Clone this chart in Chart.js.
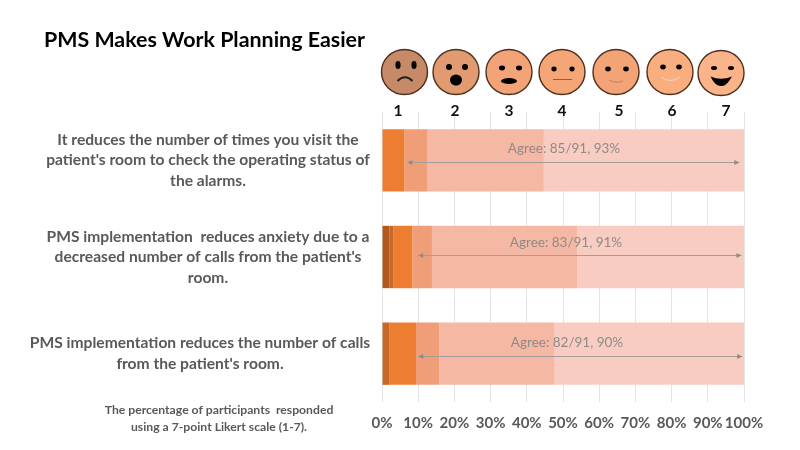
<!DOCTYPE html>
<html>
<head>
<meta charset="utf-8">
<title>PMS Makes Work Planning Easier</title>
<script src="https://cdn.jsdelivr.net/npm/chart.js@4"></script>
<style>
  html, body { margin: 0; padding: 0; background: #fff; }
  #wrap { position: relative; width: 800px; height: 450px; }
</style>
</head>
<body>
<div id="wrap"><canvas id="chart" width="800" height="450"></canvas></div>
<script>
// Likert responses per statement, percent of participants
const statements = [
  ["It reduces the number of times you visit the", "patient's room to check the operating status of", "the alarms."],
  ["PMS implementation  reduces anxiety due to a", "decreased number of calls from the patient's", "room."],
  ["PMS implementation reduces the number of calls", "from the patient's room."]
];
const score1 = [0, 2.0, 0];
const score2 = [0, 1.2, 2.1];
const score3 = [6.2, 5.2, 7.3];
const score4 = [6.4, 5.4, 6.4];
const score5 = [32.1, 40.2, 31.9];
const score6to7 = [55.3, 46.0, 52.3];

const agreeLabels = ["Agree: 85/91, 93%", "Agree: 83/91, 91%", "Agree: 82/91, 90%"];
const agreeFrom = [7, 10, 10];
const agreeTo = [98.7, 99.3, 99.5];

const scaleLabels = ["1", "2", "3", "4", "5", "6", "7"];
const footnote = ["The percentage of participants  responded", "using a 7-point Likert scale (1-7)."];

const FONT = 'Lato, "Open Sans", sans-serif';
const labelCenters = [208, 208, 200];
const scaleLabelX = [398, 455, 509, 562, 619, 672, 726];
const agreeTextX = [564, 566, 567];
const agreeTextY = [149, 243, 343];
const arrowY = [162, 255, 356];

const faces = [
  { x: 404.5, y: 72, fill: '#c68a68', mouth: 'frown', eyes: [398, 414, 65, 2.6, 4] },
  { x: 456, y: 72, fill: '#e29a70', mouth: 'open', eyes: [449, 465, 67, 3, 3] },
  { x: 509, y: 72, fill: '#f2a377', mouth: 'oval', eyes: [502, 519, 68, 3, 2.4] },
  { x: 562, y: 72, fill: '#f4a676', mouth: 'flat', eyes: [554, 572, 69, 2.6, 2.4] },
  { x: 616, y: 72, fill: '#f2a477', mouth: 'slight', eyes: [608, 626, 69, 2.8, 2.4] },
  { x: 670, y: 72, fill: '#f9ae80', mouth: 'pale', eyes: [663, 679, 67, 2.8, 2.4] },
  { x: 721, y: 73, fill: '#fbb38a', mouth: 'grin', eyes: [714, 731, 68, 3, 2] }
];

function drawFace(ctx, f){
  ctx.beginPath();
  ctx.ellipse(f.x, f.y, 23, 22.5, 0, 0, Math.PI * 2);
  ctx.fillStyle = f.fill;
  ctx.fill();
  ctx.lineWidth = 1.4;
  ctx.strokeStyle = '#4d2f1c';
  ctx.stroke();

  ctx.fillStyle = '#000';
  const [ex1, ex2, ey, rx, ry] = f.eyes;
  [ex1, ex2].forEach(ex => {
    ctx.beginPath();
    ctx.ellipse(ex, ey, rx, ry, 0, 0, Math.PI * 2);
    ctx.fill();
  });

  ctx.beginPath();
  if (f.mouth === 'frown'){
    ctx.moveTo(f.x - 7, f.y + 9);
    ctx.quadraticCurveTo(f.x + 0.5, f.y + 1.5, f.x + 8, f.y + 9);
    ctx.lineWidth = 2;
    ctx.strokeStyle = '#222';
    ctx.stroke();
  } else if (f.mouth === 'open'){
    ctx.ellipse(f.x, f.y + 8, 6, 5.5, 0, 0, Math.PI * 2);
    ctx.fill();
  } else if (f.mouth === 'oval'){
    ctx.ellipse(f.x, f.y + 9, 8, 3, 0, 0, Math.PI * 2);
    ctx.fill();
  } else if (f.mouth === 'flat'){
    ctx.moveTo(f.x - 9, f.y + 7.5);
    ctx.lineTo(f.x + 10, f.y + 7.5);
    ctx.lineWidth = 0.8;
    ctx.strokeStyle = '#7a4a30';
    ctx.stroke();
  } else if (f.mouth === 'slight'){
    ctx.moveTo(f.x - 7, f.y + 8);
    ctx.quadraticCurveTo(f.x, f.y + 12, f.x + 7, f.y + 9);
    ctx.lineWidth = 0.9;
    ctx.strokeStyle = '#c47c5c';
    ctx.stroke();
  } else if (f.mouth === 'pale'){
    ctx.moveTo(f.x - 9, f.y + 5);
    ctx.quadraticCurveTo(f.x, f.y + 12, f.x + 10, f.y + 5);
    ctx.lineWidth = 1;
    ctx.strokeStyle = '#f4d3be';
    ctx.stroke();
  } else if (f.mouth === 'grin'){
    ctx.moveTo(f.x - 10.5, f.y + 3.5);
    ctx.quadraticCurveTo(f.x, f.y + 8, f.x + 11, f.y + 3.5);
    ctx.quadraticCurveTo(f.x + 5, f.y + 14, f.x, f.y + 13);
    ctx.quadraticCurveTo(f.x - 6, f.y + 13, f.x - 10.5, f.y + 3.5);
    ctx.fill();
  }
}

function drawArrow(ctx, x1, x2, y){
  ctx.strokeStyle = '#a39c98';
  ctx.lineWidth = 1;
  ctx.beginPath();
  ctx.moveTo(x1, y + 0.5);
  ctx.lineTo(x2, y + 0.5);
  ctx.stroke();
  ctx.fillStyle = '#8f8a87';
  [[x1, 1], [x2, -1]].forEach(([x, dir]) => {
    ctx.beginPath();
    ctx.moveTo(x, y + 0.5);
    ctx.lineTo(x + dir * 5, y - 2);
    ctx.lineTo(x + dir * 5, y + 3);
    ctx.closePath();
    ctx.fill();
  });
}

// Everything around the bars: title, faces, statement text, agree spans
const decorations = {
  id: 'decorations',
  afterDatasetsDraw(chart){
    const ctx = chart.ctx;
    const xs = chart.scales.x;
    const ys = chart.scales.y;
    ctx.save();
    ctx.textBaseline = 'middle';

    ctx.textAlign = 'left';
    ctx.fillStyle = '#000';
    ctx.font = 'bold 21.4px ' + FONT;
    ctx.fillText('PMS Makes Work Planning Easier', 44, 40);

    faces.forEach(f => drawFace(ctx, f));

    ctx.textAlign = 'center';
    ctx.fillStyle = '#111';
    ctx.font = 'bold 15.5px ' + FONT;
    scaleLabels.forEach((s, i) => ctx.fillText(s, scaleLabelX[i], 111));

    statements.forEach((lines, i) => {
      const cy = ys.getPixelForValue(i);
      ctx.fillStyle = '#595959';
      ctx.font = 'bold 15.6px ' + FONT;
      lines.forEach((line, j) => {
        ctx.fillText(line, labelCenters[i], cy + (j - (lines.length - 1) / 2) * 20.5);
      });

      drawArrow(ctx, xs.getPixelForValue(agreeFrom[i]), xs.getPixelForValue(agreeTo[i]), arrowY[i]);
      ctx.fillStyle = '#8f8a87';
      ctx.font = '13.5px ' + FONT;
      ctx.fillText(agreeLabels[i], agreeTextX[i], agreeTextY[i]);
    });

    ctx.fillStyle = '#595959';
    ctx.font = 'bold 12.2px ' + FONT;
    footnote.forEach((line, j) => ctx.fillText(line, 219, 410 + j * 17));
    ctx.restore();
  }
};

const series = [
  { label: '1', data: score1, backgroundColor: '#b3591f' },
  { label: '2', data: score2, backgroundColor: '#c5682a' },
  { label: '3', data: score3, backgroundColor: '#ed7d31' },
  { label: '4', data: score4, backgroundColor: '#f09e78' },
  { label: '5', data: score5, backgroundColor: '#f4b8a4' },
  { label: '6-7', data: score6to7, backgroundColor: '#f8ccc0' }
];

new Chart(document.getElementById('chart').getContext('2d'), {
  type: 'bar',
  data: {
    labels: statements,
    datasets: series.map(s => ({ ...s, borderWidth: 0, categoryPercentage: 0.645, barPercentage: 1 }))
  },
  options: {
    indexAxis: 'y',
    responsive: false,
    animation: false,
    layout: { padding: { left: 382, right: 56, top: 112, bottom: 6 } },
    plugins: { legend: { display: false }, tooltip: { enabled: false } },
    scales: {
      x: {
        stacked: true,
        min: 0,
        max: 100,
        border: { display: false },
        grid: { color: '#e4e4e4', drawTicks: false },
        ticks: {
          stepSize: 10,
          autoSkip: false,
          padding: 12,
          maxRotation: 0,
          color: '#595959',
          font: { family: FONT, size: 15, weight: 'bold' },
          callback: v => v + '%'
        }
      },
      y: { stacked: true, display: false }
    }
  },
  plugins: [decorations]
});
</script>
</body>
</html>
